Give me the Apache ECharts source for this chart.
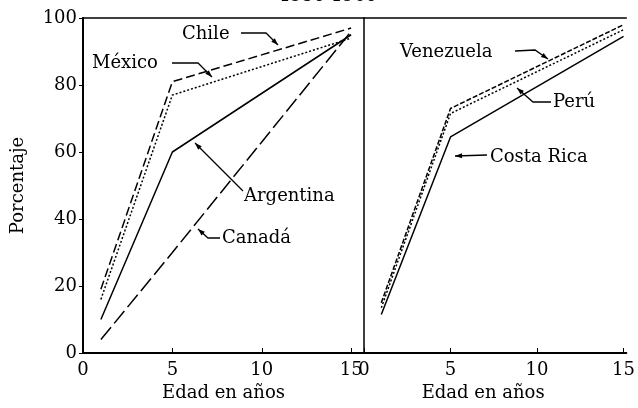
<!DOCTYPE html>
<html>
<head>
<meta charset="utf-8">
<script src="https://cdn.jsdelivr.net/npm/echarts@6/dist/echarts.min.js"></script>
<style>
  html, body { margin: 0; padding: 0; background: #fff; }
  #main { width: 638px; height: 408px; }
</style>
</head>
<body>
<div id="main"></div>
<script type="text/javascript">
// edades (años) y porcentajes
var ages = [1, 5, 15];
var chile = [19, 81, 97];
var mexico = [16, 77, 94];
var argentina = [10, 60, 95];
var canada = [4, 30, 96];
var venezuela = [15, 73, 98];
var peru = [13.5, 71.5, 96.5];
var costaRica = [11.5, 64.5, 94.5];
var yTicks = [0, 20, 40, 60, 80, 100];
var xTicks = [0, 5, 10, 15];

var FONT = 'DejaVu Serif';

function pairs(vals) {
    var out = [];
    for (var i = 0; i < ages.length; i++) {
        out.push([ages[i], vals[i]]);
    }
    return out;
}

function serie(name, vals, dash, grid) {
    return {
        name: name,
        type: 'line',
        xAxisIndex: grid,
        yAxisIndex: grid,
        data: pairs(vals),
        showSymbol: false,
        silent: true,
        lineStyle: { color: '#000', width: 1.5, type: dash }
    };
}

function xAx(grid, max, pad) {
    return {
        type: 'value', gridIndex: grid, min: xTicks[0], max: max, interval: 5,
        axisLine: { show: true, lineStyle: { color: '#000', width: 2 } },
        axisTick: { show: true, inside: true, length: 5, lineStyle: { color: '#000' } },
        axisLabel: { color: '#000', fontSize: 18, fontFamily: FONT, margin: 8, showMaxLabel: false },
        splitLine: { show: false },
        name: 'Edad en años', nameLocation: 'middle', nameGap: 30,
        nameTextStyle: { color: '#000', fontSize: 18, fontFamily: FONT, padding: pad }
    };
}

// textos de las curvas y sus lineas guia (pixeles)
var notes = [
    { text: 'Chile', x: 182, y: 34, line: [[241, 33], [266, 33], [278, 45]] },
    { text: 'México', x: 92, y: 63, line: [[172, 63], [198, 63], [212, 77]] },
    { text: 'Argentina', x: 244, y: 196, line: [[243, 191], [195, 143]] },
    { text: 'Canadá', x: 222, y: 238, line: [[220, 238], [208, 238], [198, 229]] },
    { text: 'Venezuela', x: 400, y: 52, line: [[515, 51], [535, 50], [548, 59]] },
    { text: 'Perú', x: 553, y: 102, line: [[551, 102], [533, 102], [517, 88]] },
    { text: 'Costa Rica', x: 490, y: 157, line: [[487, 155], [455, 156]] }
];

var graphics = [{
    type: 'text', x: 328, y: 5,
    style: { text: '1950-1960', fill: '#000', font: '18px "DejaVu Serif"', textAlign: 'center', textVerticalAlign: 'bottom' }
}];
notes.forEach(function (n) {
    graphics.push({
        type: 'text', x: n.x, y: n.y,
        style: { text: n.text, fill: '#000', font: '18px "DejaVu Serif"', textAlign: 'left', textVerticalAlign: 'middle' }
    });
    graphics.push({
        type: 'polyline',
        shape: { points: n.line },
        style: { stroke: '#000', lineWidth: 1.3, fill: null }
    });
    // punta de flecha
    var a = n.line[n.line.length - 2], b = n.line[n.line.length - 1];
    var ang = Math.atan2(b[1] - a[1], b[0] - a[0]);
    var L = 7, W = 2.5;
    var bx = b[0] - L * Math.cos(ang), by = b[1] - L * Math.sin(ang);
    graphics.push({
        type: 'polygon',
        shape: { points: [b, [bx - W * Math.sin(ang), by + W * Math.cos(ang)], [bx + W * Math.sin(ang), by - W * Math.cos(ang)]] },
        style: { fill: '#000' }
    });
});

var myChart = echarts.init(document.getElementById('main'), null, { renderer: 'canvas' });

var option = {
    backgroundColor: '#fff',
    animation: false,
    grid: [
        { left: 83, top: 18, width: 281, height: 335, show: true, borderColor: '#000', borderWidth: 1.5, backgroundColor: 'transparent' },
        { left: 364, top: 18, width: 274, height: 335 }
    ],
    xAxis: [
        xAx(0, 15.72, [0, 0, 0, 0]),
        xAx(1, 15.16, [0, 24, 0, 0]),
        {
            type: 'value', gridIndex: 1, position: 'top', min: 0, max: 15.16,
            axisLine: { show: true, lineStyle: { color: '#000', width: 1.5 } },
            axisTick: { show: false }, axisLabel: { show: false }, splitLine: { show: false }
        }
    ],
    yAxis: [
        {
            type: 'value', gridIndex: 0, min: yTicks[0], max: yTicks[yTicks.length - 1], interval: 20,
            axisLine: { show: true, lineStyle: { color: '#000', width: 2 } },
            axisTick: { show: true, length: 4, lineStyle: { color: '#000' } },
            axisLabel: { color: '#000', fontSize: 18, fontFamily: FONT, margin: 6 },
            splitLine: { show: false },
            name: 'Porcentaje', nameLocation: 'middle', nameGap: 56, nameRotate: 90,
            nameTextStyle: { color: '#000', fontSize: 18, fontFamily: FONT }
        },
        { type: 'value', gridIndex: 1, min: 0, max: 100, show: false }
    ],
    series: [
        serie('Chile', chile, [9, 4], 0),
        serie('México', mexico, [2, 2], 0),
        serie('Argentina', argentina, 'solid', 0),
        serie('Canadá', canada, [16, 5], 0),
        serie('Venezuela', venezuela, [5, 2], 1),
        serie('Perú', peru, [2, 2], 1),
        serie('Costa Rica', costaRica, 'solid', 1)
    ],
    graphic: graphics
};

myChart.setOption(option);
</script>
</body>
</html>
